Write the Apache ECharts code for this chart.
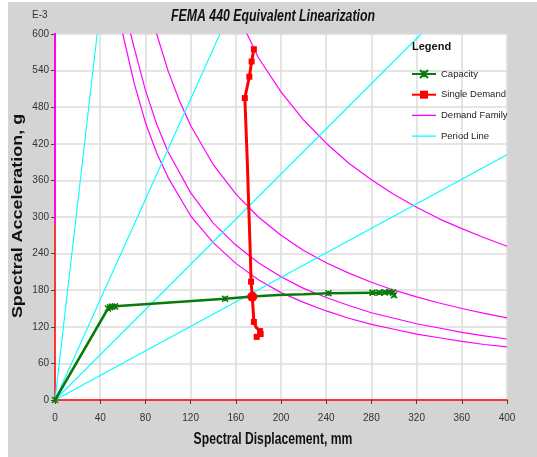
<!DOCTYPE html>
<html><head><meta charset="utf-8">
<script src="https://cdn.jsdelivr.net/npm/echarts@6/dist/echarts.min.js"></script>
<style>html,body{margin:0;padding:0;background:#fff}#c{width:537px;height:457px}</style>
</head><body><div id="c"></div>
<script>
var xTicks = [0,40,80,120,160,200,240,280,320,360,400];
var yTicks = [0,60,120,180,240,300,360,420,480,540,600];
var capacity = [[0,0],[46.9,150],[48.7,152],[50.5,153],[53,153.5],[150.5,166],[175,169.5],[197,172],[220,173.5],[242,175],[281,176],[287,176],[292,176.5],[296,177],[299,176],[300,172]];
var capacityMarked = [true,true,true,true,true,true,false,false,false,true,true,true,true,true,true,true];
var singleDemand = [[176,575],[174,555],[172,530],[168,495],[170,400],[173,230],[173.5,194],[174.6,169.4],[176,128],[178,119],[181.5,113],[182,108],[178.5,103.5]];
var singleMarked = [true,true,true,true,false,false,true,'pp',true,false,true,true,true];
var demandA = [[0,290],[1,1600],[22,1600],[40,900],[60,600],[70,520],[80,455],[90,405],[100,365],[120,302],[140,258],[160,224],[180,197],[200,176],[220,160],[240,146],[260,134],[280,124],[300,116],[320,108],[340,102],[360,96],[380,91],[400,87]];
var demandB = [[0,290],[1,1600],[25,1600],[45,890],[67,600],[70,578],[80,508],[90,452],[100,407],[120,340],[140,290],[160,254],[180,225],[200,202],[220,183],[240,168],[260,155],[280,143],[300,134],[320,125],[340,118],[360,111],[380,105],[400,100]];
var demandC = [[0,390],[1,1600],[34,1600],[50,1080],[70,770],[90,600],[100,540],[110,491],[120,450],[140,386],[160,338],[180,300],[200,270],[220,245],[240,225],[260,208],[280,193],[300,180],[320,169],[340,159],[360,150],[380,142],[400,134.5]];
var demandD = [[0,390],[1,1600],[63,1600],[100,1010],[140,720],[170,600],[180,561],[200,505],[220,459],[240,421],[260,388],[280,361],[300,337],[320,316],[340,297],[360,281],[380,266],[400,252]];
var period05 = [[0,0],[37.3,600]];
var period10 = [[0,0],[146,600]];
var period15 = [[0,0],[324,600]];
var period20 = [[0,0],[400,402]];
var legendNames = ['Capacity','Single Demand','Demand Family','Period Line'];
var titleText = 'FEMA 440 Equivalent Linearization';
var xName = 'Spectral Displacement, mm';
var yName = 'Spectral Acceleration, g';

var FONT = '"Liberation Sans",Arial,sans-serif';
var chart = echarts.init(document.getElementById('c'), null, {renderer:'canvas'});
var lineIcon = 'path://M0,0H24V1.3H0Z';
var demandSeries = [demandA,demandB,demandC,demandD].map(function(d){
  return {name:'Demand Family', type:'line', data:d, showSymbol:false, symbol:'none', z:2,
    lineStyle:{color:'#ff00ff', width:1.2}, itemStyle:{color:'#ff00ff'}};
});
var periodSeries = [period05,period10,period15,period20].map(function(d){
  return {name:'Period Line', type:'line', data:d, showSymbol:false, symbol:'none', z:2,
    lineStyle:{color:'#00ffff', width:1.1}, itemStyle:{color:'#00ffff'}};
});
var xMark = 'path://M0,0L10,10M10,0L0,10M5,1L5,9';
chart.setOption({
  animation:false,
  backgroundColor:'#d4d4d4',
  graphic:[
    {type:'rect', shape:{x:0,y:0,width:8,height:457}, style:{fill:'#fff'}, silent:true},
    {type:'rect', shape:{x:0,y:0,width:537,height:2}, style:{fill:'#fff'}, silent:true},
    {type:'text', x:273, y:17, scaleX:0.77, style:{text:titleText, font:'italic bold 16px '+FONT, fill:'#111', align:'center', verticalAlign:'middle'}},
    {type:'text', x:273, y:440, scaleX:0.76, style:{text:xName, font:'bold 16px '+FONT, fill:'#111', align:'center', verticalAlign:'middle'}},
    {type:'text', x:18, y:216, rotation:Math.PI/2, scaleX:1.28, style:{text:yName, font:'bold 14px '+FONT, fill:'#111', align:'center', verticalAlign:'middle'}},
    {type:'text', x:32, y:10, style:{text:'E-3', font:'10px '+FONT, fill:'#333'}},
    {type:'text', x:412, y:41, z:10, style:{text:'Legend', font:'bold 11px '+FONT, fill:'#111'}}
  ],
  legend:{data:[{name:'Capacity'},{name:'Single Demand'},{name:'Demand Family', icon:lineIcon},{name:'Period Line', icon:lineIcon}],
    orient:'vertical', left:406, top:64, itemWidth:24, itemHeight:10, itemGap:10.7,
    textStyle:{fontFamily:FONT, fontSize:9.5, color:'#222'}, selectedMode:false},
  grid:{left:55, right:30, top:34, bottom:57, show:true, backgroundColor:'#fff', borderWidth:0},
  xAxis:{type:'value', min:0, max:400, interval:40,
    axisLine:{show:true, onZero:false, lineStyle:{color:'#ff0000', width:1.5}},
    axisTick:{show:true, length:4, lineStyle:{color:'#444'}},
    axisLabel:{fontFamily:FONT, fontSize:10, color:'#333', margin:13},
    splitLine:{show:true, lineStyle:{color:'#dcdcdc', width:1.5}}},
  yAxis:{type:'value', min:0, max:600, interval:60,
    axisLine:{show:true, onZero:false, lineStyle:{color:'#ff0000', width:1.5}},
    axisTick:{show:true, length:4, lineStyle:{color:'#444'}},
    axisLabel:{fontFamily:FONT, fontSize:10, color:'#333', margin:6},
    splitLine:{show:true, lineStyle:{color:'#dcdcdc', width:1.5}}},
  series: demandSeries.concat(periodSeries).concat([
    {name:'Capacity', type:'line', z:4, showAllSymbol:true, symbol:xMark, symbolSize:6,
      data:capacity.map(function(p,i){ return capacityMarked[i] ? {value:p} : {value:p, symbol:'none'}; }),
      lineStyle:{color:'#0a7a0a', width:2.5}, itemStyle:{color:'#0a7a0a', borderColor:'#0a7a0a', borderWidth:1.6}},
    {name:'Single Demand', type:'line', z:5, showAllSymbol:true, symbol:'rect', symbolSize:6,
      data:singleDemand.map(function(p,i){
        var m = singleMarked[i];
        if(m==='pp') return {value:p, symbol:'circle', symbolSize:10};
        return m ? {value:p} : {value:p, symbol:'none'};
      }),
      lineStyle:{color:'#ff0000', width:3}, itemStyle:{color:'#ff0000'}}
  ])
});
</script></body></html>
